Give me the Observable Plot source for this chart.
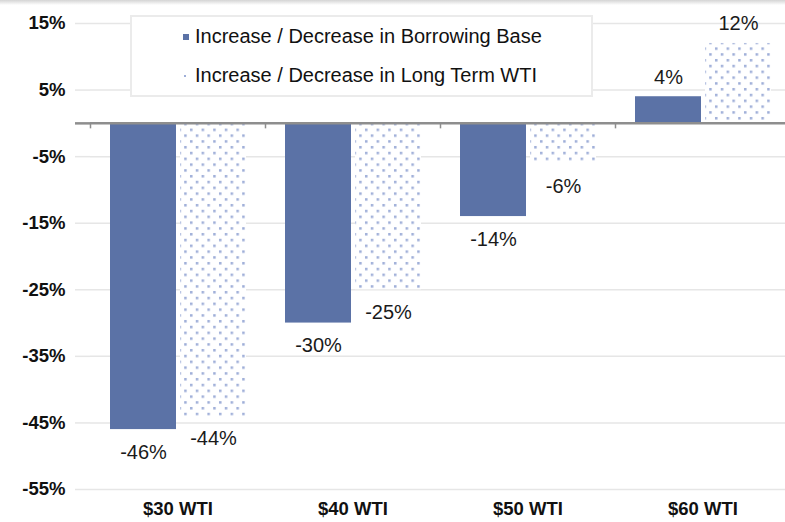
<!DOCTYPE html>
<html><head><meta charset="utf-8">
<script src="https://cdn.jsdelivr.net/npm/d3@7"></script>
<script src="https://cdn.jsdelivr.net/npm/@observablehq/plot@0.6"></script>
<style>
body{margin:0;background:#fff;font-family:"Liberation Sans",Arial,sans-serif;}
#wrap{position:relative;width:785px;height:522px;overflow:hidden;background:#fff;}
#topbar{position:absolute;left:0;top:0;width:785px;height:5px;background:linear-gradient(#d4d4d4,#fff);z-index:3;}
#legend{position:absolute;left:130px;top:15px;width:459px;height:78px;border:2px solid #ebebeb;background:#fff;z-index:2;}
.item{position:absolute;left:63px;font-size:20px;color:#111;line-height:20px;white-space:nowrap;}
.mk{position:absolute;}
</style></head>
<body>
<svg width="0" height="0" style="position:absolute">
  <defs>
    <pattern id="dots" patternUnits="userSpaceOnUse" width="11.6" height="11.6">
      <rect width="11.6" height="11.6" fill="#ffffff"/>
      <rect x="1" y="1" width="2.5" height="2.5" fill="#9eaed8"/>
      <rect x="6.8" y="6.8" width="2.5" height="2.5" fill="#9eaed8"/>
    </pattern>
  </defs>
</svg>
<div id="wrap">
  <div id="topbar"></div>
  <div id="legend">
    <div class="mk" style="left:51px;top:17px;width:6px;height:6px;background:#5b72a6"></div>
    <div class="item" id="l1" style="top:9px"></div>
    <div class="mk" style="left:52px;top:58px;width:2px;height:2px;background:#9eaed8"></div>
    <div class="item" id="l2" style="top:48px"></div>
  </div>
  <div id="chart"></div>
</div>
<script>
const categories = ["$30 WTI", "$40 WTI", "$50 WTI", "$60 WTI"];
const seriesNames = ["Increase / Decrease in Borrowing Base", "Increase / Decrease in Long Term WTI"];
const borrowingBase = [-46, -30, -14, 4];
const longTermWTI = [-44, -25, -6, 12];
const yTicks = [15, 5, -5, -15, -25, -35, -45, -55];

document.getElementById("l1").textContent = seriesNames[0];
document.getElementById("l2").textContent = seriesNames[1];

const bbRows = categories.map((c, i) => ({category: c, series: seriesNames[0], value: borrowingBase[i]}));
const wtiRows = categories.map((c, i) => ({category: c, series: seriesNames[1], value: longTermWTI[i]}));
const rows = bbRows.concat(wtiRows);

const tickSym = {draw(ctx, size) { ctx.moveTo(0, 0); ctx.lineTo(0, 5); }};

const chart = Plot.plot({
  width: 785,
  height: 522,
  marginTop: 23,
  marginBottom: 33,
  marginLeft: 75,
  marginRight: 0,
  style: {fontFamily: "'Liberation Sans', Arial, sans-serif", background: "transparent", overflow: "visible"},
  fx: {domain: categories, range: [90, 790], padding: 0, label: null},
  x: {domain: seriesNames, paddingInner: 0.06, paddingOuter: 0.27, axis: null},
  y: {domain: [-55, 15], label: null},
  marks: [
    Plot.gridY(yTicks, {stroke: "#e6e6e6", strokeOpacity: 1, strokeWidth: 1.5}),
    Plot.axisY(yTicks, {tickSize: 15, tickPadding: 10, stroke: "#e6e6e6", strokeOpacity: 1, strokeWidth: 1.5,
      tickFormat: d => d + "%", fontWeight: "bold", fontSize: 18.5, fill: "#111", label: null}),
    Plot.barY(bbRows, {fx: "category", x: "series", y: "value", fill: "#5b72a6"}),
    Plot.barY(wtiRows, {fx: "category", x: "series", y: "value", fill: "url(#dots)"}),
    Plot.ruleY([0], {stroke: "#8e8e8e", strokeWidth: 2.5}),
    Plot.axisY([0], {tickSize: 15, stroke: "#8e8e8e", strokeOpacity: 1, strokeWidth: 2.5, tickFormat: () => "", label: null}),
    Plot.dot([0], {y: d => d, frameAnchor: "left", symbol: tickSym, stroke: "#8e8e8e", fill: "none", strokeWidth: 1.5}),
    Plot.text(rows.filter(d => d.value < 0), {fx: "category", x: "series", y: "value", text: d => d.value + "%",
      lineAnchor: "top", dy: 15, fontSize: 20, fill: "#1a1a1a"}),
    Plot.text(rows.filter(d => d.value >= 0), {fx: "category", x: "series", y: "value", text: d => d.value + "%",
      lineAnchor: "bottom", dy: -13, fontSize: 20, fill: "#1a1a1a"}),
    Plot.axisFx({anchor: "bottom", tickSize: 0, tickPadding: 12, fontWeight: "bold", fontSize: 18.5, fill: "#111", label: null})
  ]
});
document.getElementById("chart").appendChild(chart);
</script>
</body></html>
